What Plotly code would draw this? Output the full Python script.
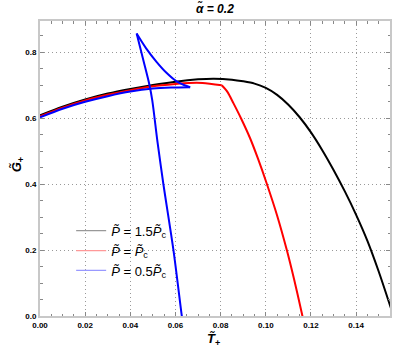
import plotly.graph_objects as go

# Black: P = 1.5 Pc
t_black = [0, 0.01, 0.02, 0.03, 0.04, 0.05, 0.06, 0.07, 0.077, 0.085, 0.09, 0.095, 0.1, 0.105,
           0.11, 0.115, 0.12, 0.125, 0.13, 0.135, 0.14, 0.145, 0.15, 0.1555, 0.158]
g_black = [0.609, 0.635, 0.657, 0.675, 0.689, 0.701, 0.711, 0.718, 0.720, 0.717, 0.712, 0.705, 0.692, 0.671,
           0.641, 0.603, 0.557, 0.503, 0.443, 0.378, 0.307, 0.228, 0.135, 0.022, -0.03]

# Red: P = Pc (two pieces meeting at the kink)
t_red_left = [0, 0.01, 0.02, 0.03, 0.04, 0.05, 0.06, 0.066, 0.072, 0.0805]
g_red_left = [0.606, 0.632, 0.654, 0.671, 0.685, 0.697, 0.704, 0.707, 0.707, 0.700]
t_red_right = [0.0805, 0.083, 0.0857, 0.089, 0.093, 0.0965, 0.1004, 0.105, 0.1093, 0.1125, 0.1159, 0.117]
g_red_right = [0.700, 0.680, 0.645, 0.600, 0.540, 0.478, 0.402, 0.305, 0.200, 0.112, 0.010, -0.025]

# Blue: P = 0.5 Pc (swallowtail, three branches)
t_blue_lower = [0, 0.01, 0.02, 0.03, 0.04, 0.05, 0.058, 0.0665]
g_blue_lower = [0.603, 0.629, 0.650, 0.667, 0.681, 0.690, 0.693, 0.694]
t_blue_upper = [0.0665, 0.064, 0.0605, 0.056, 0.0515, 0.047, 0.0428]
g_blue_upper = [0.694, 0.700, 0.712, 0.738, 0.772, 0.812, 0.857]
t_blue_desc = [0.0428, 0.0458, 0.0484, 0.0497, 0.052, 0.0546, 0.0591, 0.0628, 0.064]
g_blue_desc = [0.857, 0.775, 0.703, 0.655, 0.530, 0.402, 0.200, 0.0, -0.06]

legend_labels = ["<i>P̃</i> = 1.5<i>P̃</i><sub>c</sub>",
                 "<i>P̃</i> = <i>P̃</i><sub>c</sub>",
                 "<i>P̃</i> = 0.5<i>P̃</i><sub>c</sub>"]
line_colors = ["black", "#ff0000", "#0000ff"]
legend_colors = ["#999999", "#ff9999", "#9999ff"]

x_ticks = [0, 0.02, 0.04, 0.06, 0.08, 0.10, 0.12, 0.14]
y_ticks = [0, 0.2, 0.4, 0.6, 0.8]

curves = [
    (t_black, g_black, line_colors[0]),
    (t_red_left, g_red_left, line_colors[1]),
    (t_red_right, g_red_right, line_colors[1]),
    (t_blue_lower, g_blue_lower, line_colors[2]),
    (t_blue_upper, g_blue_upper, line_colors[2]),
    (t_blue_desc, g_blue_desc, line_colors[2]),
]

fig = go.Figure()
for t, g, c in curves:
    fig.add_trace(go.Scatter(x=t, y=g, mode="lines",
                             line=dict(color=c, width=2, shape="spline", smoothing=0.8),
                             showlegend=False, hoverinfo="skip"))
for lab, c in zip(legend_labels, legend_colors):
    fig.add_trace(go.Scatter(x=[None], y=[None], mode="lines", line=dict(color=c, width=1.2),
                             name=lab, showlegend=True))

tickfont = dict(family="Liberation Sans", size=8, color="black", weight="bold")
common = dict(showline=True, linecolor="#c8c8c8", linewidth=2, mirror="ticks",
              ticks="inside", ticklen=4, tickcolor="#888888", tickwidth=1,
              showgrid=True, gridcolor="#999999", griddash="1px,3px", gridwidth=1,
              zeroline=False, tickfont=tickfont)

fig.update_xaxes(range=[0, 0.155], tickvals=x_ticks, tickformat=".2f",
                 minor=dict(dtick=0.005, tick0=0, ticks="inside", ticklen=2.5,
                            tickcolor="#888888", showgrid=False), **common)
fig.update_yaxes(range=[0, 0.895], tickvals=y_ticks, tickformat=".1f",
                 minor=dict(dtick=0.05, tick0=0, ticks="inside", ticklen=2.5,
                            tickcolor="#888888", showgrid=False), **common)

fig.add_annotation(text="<b><i>α̃ = 0.2</i></b>", xref="x domain", yref="paper",
                   x=0.5, y=1.041, showarrow=False, yanchor="middle",
                   font=dict(family="Liberation Sans", size=12, color="black"))
fig.add_annotation(text="<b><i>T̃</i><sub>+</sub></b>", xref="x domain", yref="paper",
                   x=0.495, y=-0.078, showarrow=False, yanchor="middle",
                   font=dict(family="Liberation Sans", size=13, color="black"))
fig.add_annotation(text="<b><i>G̃</i><sub>+</sub></b>", xref="paper", yref="paper",
                   x=-0.062, y=0.512, showarrow=False, textangle=-90,
                   xanchor="center", yanchor="middle",
                   font=dict(family="Liberation Sans", size=13, color="black"))

fig.update_layout(
    width=415, height=354,
    margin=dict(l=40, r=25, t=21, b=38),
    plot_bgcolor="white", paper_bgcolor="white",
    legend=dict(x=0.089, y=0.34, xanchor="left", yanchor="top",
                bgcolor="rgba(0,0,0,0)", font=dict(family="Liberation Sans", size=13, color="black"),
                tracegroupgap=0, itemwidth=30),
)

fig.write_html("out.html", config={"displayModeBar": False},
               post_script="document.body.style.margin='0';document.body.style.padding='0';")
